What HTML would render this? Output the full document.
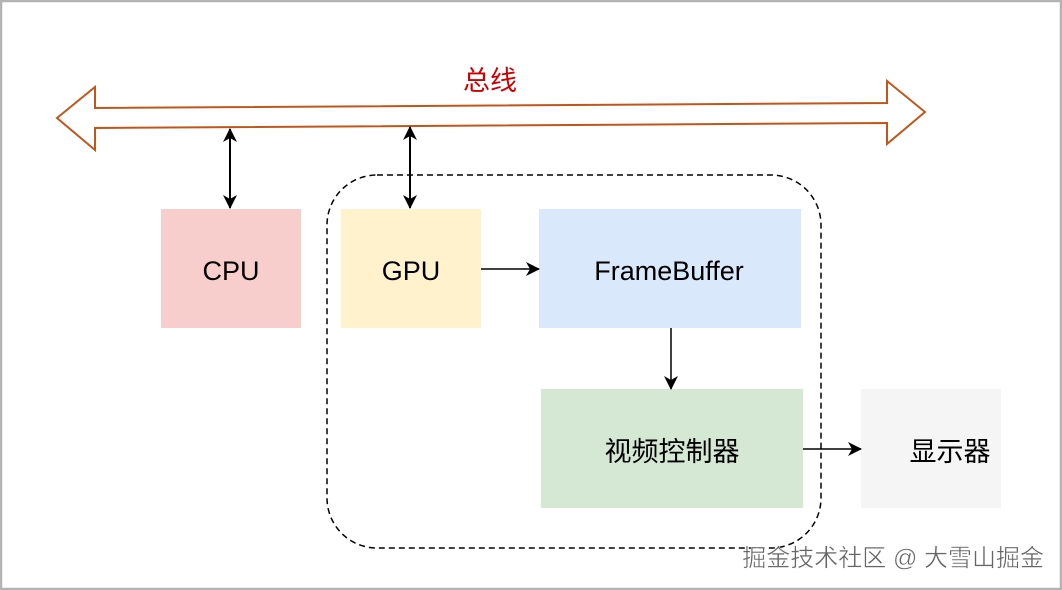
<!DOCTYPE html>
<html><head><meta charset="utf-8"><style>
html,body{margin:0;padding:0;background:#fff;}
svg{display:block;}
text{font-family:"Liberation Sans","Noto Sans CJK SC",sans-serif;}
</style></head><body>
<svg width="1062" height="590" viewBox="0 0 1062 590" xmlns="http://www.w3.org/2000/svg">
<defs>
<marker id="ah" viewBox="0 0 14 14" refX="13" refY="7" markerWidth="14" markerHeight="14" markerUnits="userSpaceOnUse" orient="auto-start-reverse">
<path d="M0,0 L14,7 L0,14 L4,7 Z" fill="#000"/>
</marker>
</defs>
<rect x="1" y="1" width="1060" height="588" fill="#fff" stroke="#b3b3b3" stroke-width="2.5"/>
<polygon points="57,118 95,87 95,108 887,103 887,81 925,112 887,144 887,123 95,128 95,150" fill="#fff" stroke="#c0561a" stroke-width="2"/>
<text x="490" y="90" font-size="27" fill="#cc0000" text-anchor="middle">总线</text>
<rect x="327" y="175" width="494" height="373" rx="50" ry="50" fill="none" stroke="#000" stroke-width="1.5" stroke-dasharray="6,4"/>
<rect x="161" y="209" width="140" height="119" fill="#f8cecc"/>
<text x="231" y="280" font-size="27" text-anchor="middle">CPU</text>
<rect x="341" y="209" width="140" height="119" fill="#fff2cc"/>
<text x="411" y="280" font-size="27" text-anchor="middle">GPU</text>
<rect x="539" y="209" width="262" height="119" fill="#dae8fc"/>
<text x="669" y="280" font-size="27" text-anchor="middle">FrameBuffer</text>
<rect x="541" y="389" width="262" height="119" fill="#d5e8d4"/>
<text x="672" y="461" font-size="27" text-anchor="middle">视频控制器</text>
<rect x="861" y="389" width="140" height="119" fill="#f5f5f5"/>
<text x="950" y="461" font-size="27" text-anchor="middle">显示器</text>
<line x1="230" y1="129" x2="230" y2="208" stroke="#000" stroke-width="2" marker-start="url(#ah)" marker-end="url(#ah)"/>
<line x1="410" y1="127" x2="410" y2="208" stroke="#000" stroke-width="2" marker-start="url(#ah)" marker-end="url(#ah)"/>
<line x1="481" y1="269" x2="539" y2="269" stroke="#000" stroke-width="1.5" marker-end="url(#ah)"/>
<line x1="671" y1="328" x2="671" y2="389" stroke="#000" stroke-width="1.5" marker-end="url(#ah)"/>
<line x1="803" y1="449" x2="861" y2="449" stroke="#000" stroke-width="1.5" marker-end="url(#ah)"/>
<text x="1044" y="566" font-size="24" fill="#666" stroke="#fff" stroke-width="0.4" text-anchor="end">掘金技术社区 @ 大雪山掘金</text>
</svg>
</body></html>
